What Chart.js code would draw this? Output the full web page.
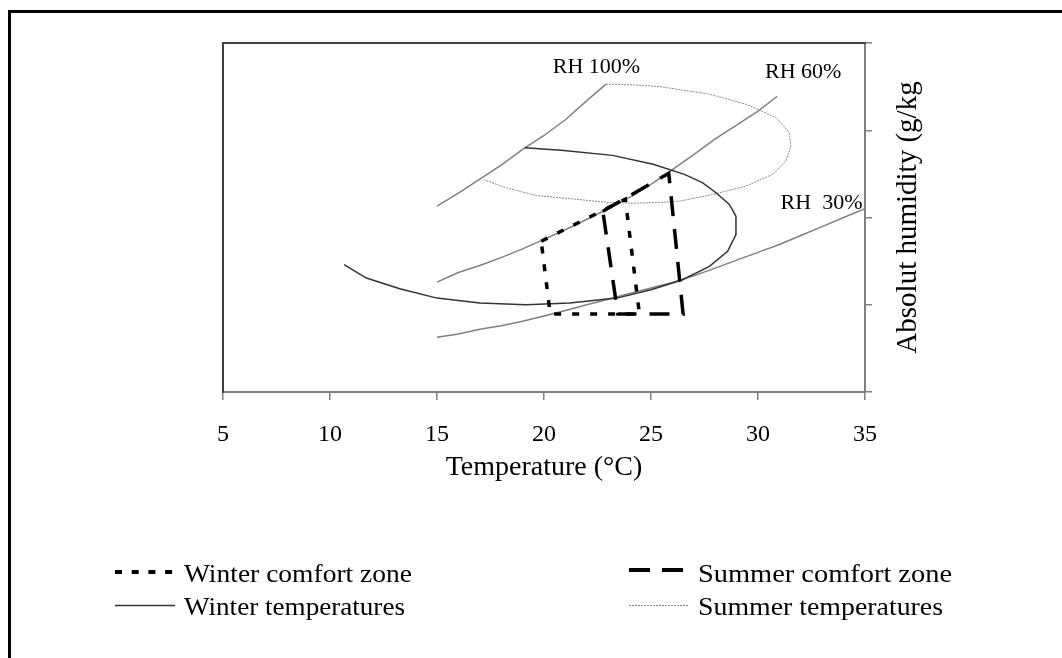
<!DOCTYPE html>
<html>
<head>
<meta charset="utf-8">
<title>Comfort zones and temperatures</title>
<script src="https://cdn.jsdelivr.net/npm/chart.js@4.4.0/dist/chart.umd.min.js"></script>
<style>
  html, body { margin: 0; padding: 0; background: #fff; }
  #wrap { position: relative; width: 1062px; height: 658px; overflow: hidden; }
  #chart, #overlay { position: absolute; left: 0; top: 0; }
</style>
</head>
<body>
<div id="wrap">
  <canvas id="chart" width="1062" height="658"></canvas>
  <svg id="overlay" width="1062" height="658" font-family="Liberation Serif, Times New Roman, serif" font-size="26">
    <path d="M9.5 658 V11.5 H1062" fill="none" stroke="#000" stroke-width="3"/>
    <line x1="115" y1="572" x2="175" y2="572" stroke="#000" stroke-width="4" stroke-dasharray="7 9.7"/>
    <text x="184" y="582" textLength="228" lengthAdjust="spacingAndGlyphs">Winter comfort zone</text>
    <line x1="115" y1="605.5" x2="175" y2="605.5" stroke="#333" stroke-width="1.3"/>
    <text x="184" y="615" textLength="221" lengthAdjust="spacingAndGlyphs">Winter temperatures</text>
    <line x1="629" y1="570" x2="683" y2="570" stroke="#000" stroke-width="4" stroke-dasharray="21 12"/>
    <text x="698" y="582" textLength="254" lengthAdjust="spacingAndGlyphs">Summer comfort zone</text>
    <line x1="629" y1="605.5" x2="689" y2="605.5" stroke="#8a8a8a" stroke-width="1" stroke-dasharray="2 1"/>
    <text x="698" y="615" textLength="245" lengthAdjust="spacingAndGlyphs">Summer temperatures</text>
  </svg>
</div>
<script>
// temperature (°C) / absolute humidity (g/kg)
const rh100Temp = [15, 16, 17, 18, 19, 20, 21, 22, 22.9];
const rh100Hum = [10.65, 11.4, 12.2, 13.0, 13.9, 14.7, 15.6, 16.7, 17.64];

const rh60Temp = [15, 16, 17, 18, 19, 20, 21, 22, 23, 24, 25, 26, 27, 28, 29, 30, 30.9];
const rh60Hum = [6.3, 6.85, 7.25, 7.7, 8.2, 8.75, 9.3, 9.9, 10.5, 11.15, 11.9, 12.75, 13.6, 14.5, 15.3, 16.1, 16.95];

const rh30Temp = [15, 16, 17, 18, 19, 20, 21, 22, 23, 24, 25, 26, 27, 28, 29, 30, 31, 32, 33, 34, 35];
const rh30Hum = [3.14, 3.33, 3.6, 3.8, 4.05, 4.35, 4.67, 5.0, 5.31, 5.64, 5.96, 6.28, 6.66, 7.1, 7.56, 8.0, 8.45, 8.97, 9.48, 10.0, 10.5];

const winterTemp = [10.66, 11.7, 13.26, 15.0, 17.0, 19.17, 21.2, 23.4, 25.0, 26.45, 27.73, 28.58, 28.97, 28.97, 28.66, 28.04, 27.4, 26.56, 25.1, 23.2, 20.8, 19.1];
const winterHum = [7.3, 6.53, 5.92, 5.38, 5.1, 5.0, 5.1, 5.38, 5.86, 6.42, 7.2, 8.06, 9.02, 10.07, 10.75, 11.42, 12.0, 12.47, 13.05, 13.56, 13.85, 14.0];

const summerTemp = [22.9, 24.2, 25.4, 27.73, 29.44, 30.84, 31.46, 31.54, 31.3, 30.68, 29.44, 27.88, 26.33, 25.4, 24.2, 23.0, 21.2, 19.64, 18.24, 17.15];
const summerHum = [17.64, 17.6, 17.5, 17.07, 16.49, 15.73, 14.87, 14.1, 13.24, 12.47, 11.8, 11.32, 10.94, 10.86, 10.82, 10.86, 11.08, 11.26, 11.7, 12.18];

const winterZoneTemp = [19.87, 23.8, 24.46, 20.29, 19.87];
const winterZoneHum = [8.64, 11.05, 4.47, 4.47, 8.64];

const summerZoneTemp = [22.75, 25.83, 26.5, 23.45, 22.75];
const summerZoneHum = [10.36, 12.53, 4.47, 4.47, 10.36];

const rhLabels = ['RH 100%', 'RH 60%', 'RH  30%'];
const rhLabelTemp = [22.45, 32.11, 32.97];
const rhLabelHum = [18.59, 18.33, 10.8];

const xTitle = 'Temperature (°C)';
const yTitle = 'Absolut humidity (g/kg';
const serif = 'Liberation Serif';

function toPoints(xs, ys) {
    return xs.map((x, i) => ({ x: x, y: ys[i] }));
}

function line(label, xs, ys, color, width, dash) {
    return {
        label: label,
        data: toPoints(xs, ys),
        showLine: true,
        borderColor: color,
        borderWidth: width,
        borderDash: dash || [],
        pointRadius: 0,
        fill: false,
        tension: 0
    };
}

// RH labels and the right-hand title (Chart.js would rotate it the other way)
const textPlugin = {
    id: 'chartTexts',
    afterDraw(chart) {
        const ctx = chart.ctx;
        const xs = chart.scales.x;
        const ys = chart.scales.y;
        ctx.save();
        ctx.fillStyle = '#000';
        ctx.textAlign = 'center';
        ctx.textBaseline = 'middle';
        ctx.font = '22px "' + serif + '"';
        rhLabels.forEach((t, i) => {
            ctx.fillText(t, xs.getPixelForValue(rhLabelTemp[i]), ys.getPixelForValue(rhLabelHum[i]));
        });
        ctx.translate(ys.right + 33, (ys.top + ys.bottom) / 2);
        ctx.rotate(-Math.PI / 2);
        ctx.font = '29px "' + serif + '"';
        ctx.fillText(yTitle, 0, 0);
        ctx.restore();
    }
};

const ctx = document.getElementById('chart').getContext('2d');
const chart = new Chart(ctx, {
    type: 'scatter',
    data: {
        datasets: [
            line('Summer comfort zone', summerZoneTemp, summerZoneHum, '#000', 3.5, [20, 13]),
            line('Winter comfort zone', winterZoneTemp, winterZoneHum, '#000', 3.5, [7, 11]),
            line('Winter temperatures', winterTemp, winterHum, '#333', 1.5),
            line('Summer temperatures', summerTemp, summerHum, '#8a8a8a', 1, [2, 1]),
            line('RH 100%', rh100Temp, rh100Hum, '#808080', 1.5),
            line('RH 60%', rh60Temp, rh60Hum, '#808080', 1.5),
            line('RH 30%', rh30Temp, rh30Hum, '#808080', 1.5)
        ]
    },
    options: {
        responsive: false,
        animation: false,
        layout: {
            padding: { left: 223, top: 43, right: 187, bottom: 174 }
        },
        plugins: {
            legend: { display: false },
            tooltip: { enabled: false }
        },
        scales: {
            x: {
                type: 'linear',
                position: 'bottom',
                min: 5,
                max: 35,
                ticks: {
                    stepSize: 5,
                    color: '#000',
                    padding: 20,
                    font: { family: serif, size: 24 }
                },
                grid: {
                    drawOnChartArea: false,
                    tickLength: 8,
                    color: '#808080',
                    lineWidth: 1.5
                },
                border: { color: '#808080', width: 2 },
                title: {
                    display: true,
                    text: xTitle,
                    color: '#000',
                    padding: 0,
                    font: { family: serif, size: 28 }
                },
                afterFit: function (scale) { scale.height = 92; }
            },
            y: {
                type: 'linear',
                position: 'right',
                min: 0,
                max: 20,
                ticks: { stepSize: 5, display: false },
                grid: {
                    drawOnChartArea: false,
                    tickLength: 7,
                    color: '#808080',
                    lineWidth: 1.5
                },
                border: { color: '#808080', width: 2 },
                afterFit: function (scale) { scale.width = 10; }
            },
            xTop: {
                type: 'linear',
                position: 'top',
                min: 5,
                max: 35,
                ticks: { display: false },
                grid: { drawOnChartArea: false, drawTicks: false },
                border: { color: '#404040', width: 2 },
                afterFit: function (scale) { scale.height = 0; }
            },
            yLeft: {
                type: 'linear',
                position: 'left',
                min: 0,
                max: 20,
                ticks: { display: false },
                grid: { drawOnChartArea: false, drawTicks: false },
                border: { color: '#404040', width: 2 },
                afterFit: function (scale) { scale.width = 0; }
            }
        }
    },
    plugins: [textPlugin]
});
</script>
</body>
</html>
